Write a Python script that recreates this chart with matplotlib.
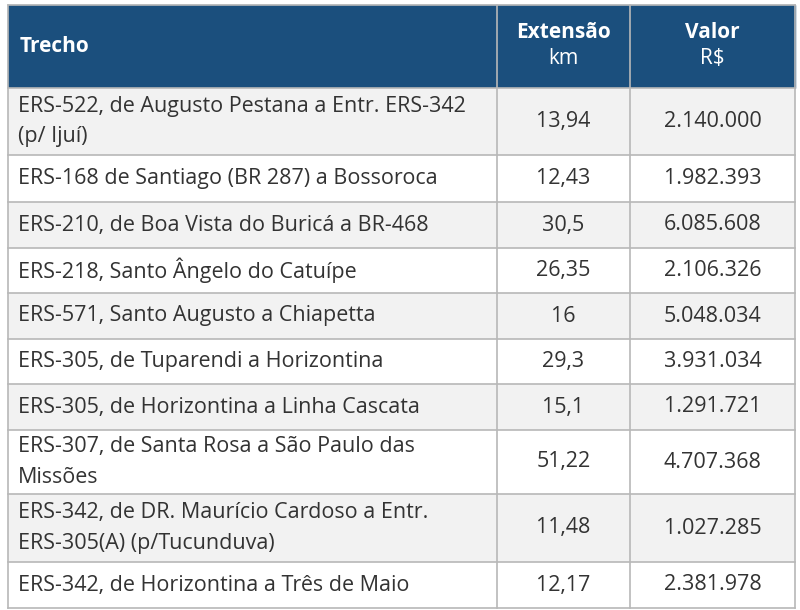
import matplotlib.pyplot as plt
from matplotlib.patches import Rectangle

trechos = [
    "ERS-522, de Augusto Pestana a Entr. ERS-342\n(p/ Ijuí)",
    "ERS-168 de Santiago (BR 287) a Bossoroca",
    "ERS-210, de Boa Vista do Buricá a BR-468",
    "ERS-218, Santo Ângelo do Catuípe",
    "ERS-571, Santo Augusto a Chiapetta",
    "ERS-305, de Tuparendi a Horizontina",
    "ERS-305, de Horizontina a Linha Cascata",
    "ERS-307, de Santa Rosa a São Paulo das\nMissões",
    "ERS-342, de DR. Maurício Cardoso a Entr.\nERS-305(A) (p/Tucunduva)",
    "ERS-342, de Horizontina a Três de Maio",
]
extensao = ["13,94", "12,43", "30,5", "26,35", "16", "29,3", "15,1", "51,22", "11,48", "12,17"]
valor = ["2.140.000", "1.982.393", "6.085.608", "2.106.326", "5.048.034",
         "3.931.034", "1.291.721", "4.707.368", "1.027.285", "2.381.978"]
headers = ["Trecho", "Extensão\nkm", "Valor\nR$"]

W, H = 800, 610
fig = plt.figure(figsize=(8, 6.1), dpi=100)
ax = fig.add_axes([0, 0, 1, 1])
ax.set_xlim(0, W)
ax.set_ylim(H, 0)
ax.axis("off")

cols = [8, 497, 630, 795]
rows = [5, 88, 155, 202, 248, 293, 339, 384, 430, 494, 562, 608]
hdr = "#1b4f7d"
grid = "#b8b8b8"
txt = "#333333"
fs = 15.5

ax.add_patch(Rectangle((cols[0], rows[0]), cols[-1] - cols[0], rows[1] - rows[0], color=hdr))
for j, h in enumerate(headers):
    if j == 0:
        ax.text(cols[0] + 12, (rows[0] + rows[1]) / 2, h, color="white", fontsize=15,
                fontweight="bold", va="center", family="Open Sans")
    else:
        top, bot = h.split("\n")
        cx = (cols[j] + cols[j + 1]) / 2
        ax.text(cx, 32, top, color="white", fontsize=15, fontweight="bold",
                ha="center", va="center", family="Open Sans")
        ax.text(cx, 59, bot, color="white", fontsize=15, ha="center", va="center",
                family="Open Sans")

for i in range(len(trechos)):
    y0, y1 = rows[i + 1], rows[i + 2]
    cy = (y0 + y1) / 2
    fc = "#f2f2f2" if i % 2 == 0 else "white"
    ax.add_patch(Rectangle((cols[0], y0), cols[-1] - cols[0], y1 - y0, facecolor=fc,
                           edgecolor="none"))
    ax.text(cols[0] + 10, cy, trechos[i], fontsize=fs, va="center", color=txt,
            linespacing=1.6, family="Open Sans")
    ax.text((cols[1] + cols[2]) / 2, cy, extensao[i], fontsize=fs, ha="center",
            va="center", color=txt, family="Open Sans")
    ax.text((cols[2] + cols[3]) / 2, cy, valor[i], fontsize=fs, ha="center",
            va="center", color=txt, family="Open Sans")

for y in rows:
    ax.plot([cols[0], cols[-1]], [y, y], color=grid, lw=1.2)
for x in cols:
    ax.plot([x, x], [rows[0], rows[-1]], color=grid, lw=1.2)

fig.savefig("out.png", dpi=100)
